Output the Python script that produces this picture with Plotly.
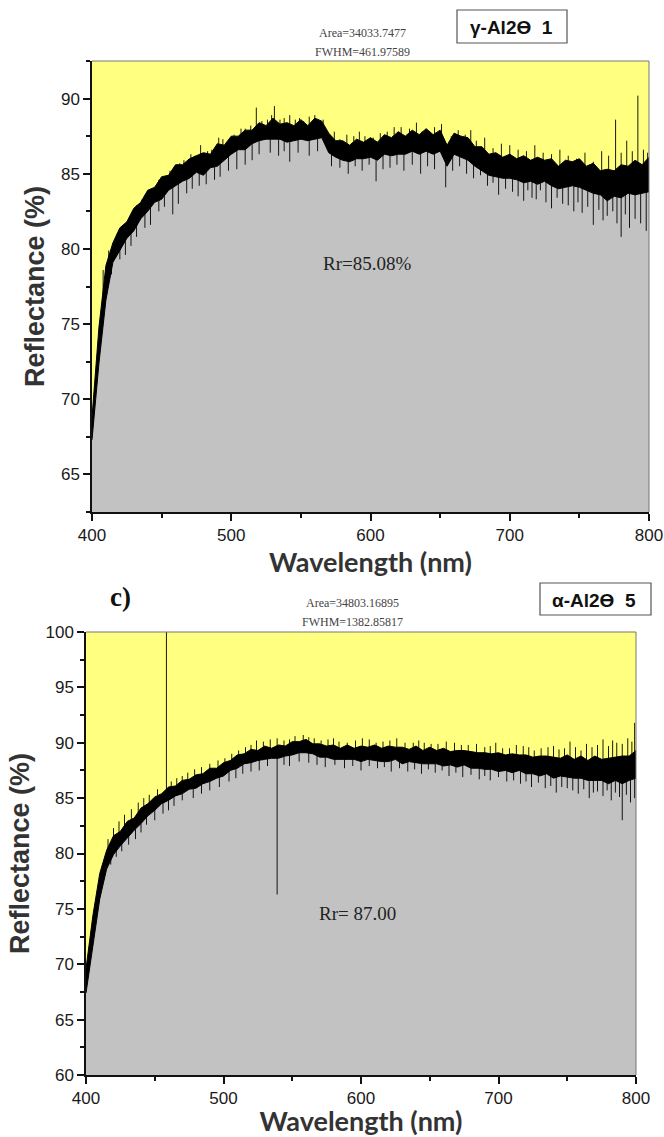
import numpy as np
import plotly.graph_objects as go

# ---------------- data ----------------
wavelength = list(range(400, 805, 5))

# gamma-Al2O3 (top panel): upper / lower edge of the noisy trace
gamma_upper = [68.8, 74.8, 78.9, 80.4, 81.4, 81.8, 82.7, 83.1, 83.9, 84.1,
               84.8, 84.9, 85.6, 85.6, 86.0, 86.2, 86.4, 86.3, 87.0, 86.9,
               87.5, 87.5, 87.9, 87.9, 88.4, 88.2, 88.7, 88.3, 88.4, 88.2,
               88.6, 88.2, 88.7, 88.5, 87.7, 87.2, 87.2, 86.9, 87.3, 87.1,
               87.4, 87.1, 87.6, 87.4, 87.8, 87.5, 87.9, 87.6, 88.0, 87.6,
               87.9, 86.9, 87.7, 87.5, 87.4, 86.8, 86.8, 86.3, 86.4, 86.1,
               86.3, 86.0, 86.2, 85.9, 86.1, 85.9, 86.0, 85.5, 85.9, 85.8,
               86.0, 85.5, 85.7, 85.2, 85.3, 85.2, 85.6, 85.5, 85.9, 85.6,
               86.1]
gamma_lower = [67.3, 72.4, 76.6, 79.1, 79.9, 80.7, 81.2, 82.0, 82.5, 83.1,
               83.3, 83.9, 84.2, 84.5, 84.7, 85.1, 84.9, 85.4, 85.5, 85.9,
               86.3, 86.6, 86.6, 87.0, 87.2, 87.3, 87.3, 87.3, 87.1, 87.2,
               87.3, 87.2, 87.3, 87.4, 86.4, 86.1, 85.9, 85.8, 86.0, 86.0,
               86.1, 85.9, 86.3, 86.2, 86.3, 86.3, 86.5, 86.3, 86.5, 86.3,
               86.5, 85.5, 86.3, 86.1, 85.9, 85.5, 85.2, 84.9, 84.8, 84.7,
               84.7, 84.6, 84.4, 84.5, 84.3, 84.5, 84.2, 84.0, 84.1, 84.2,
               84.1, 83.9, 83.7, 83.6, 83.2, 83.5, 83.4, 83.7, 83.6, 83.7,
               83.8]
gamma_spike_up_x = [408, 412, 418, 423, 428, 432, 436, 441, 444, 448, 452, 456,
                    458, 463, 466, 471, 474, 478, 483, 486, 491, 494, 498, 502,
                    507, 510, 514, 518, 522, 526, 529, 531, 535, 538, 542, 546,
                    549, 552, 556, 560, 563, 566, 574, 578, 583, 588, 592, 596,
                    602, 607, 612, 617, 622, 628, 633, 637, 640, 646, 651, 658,
                    663, 668, 672, 676, 682, 688, 694, 700, 706, 712, 718, 724,
                    730, 736, 742, 748, 754, 760, 766, 771, 776, 780, 784, 788,
                    792, 796, 799]
gamma_spike_up_y = [78.6, 79.9, 81.0, 81.6, 82.2, 82.9, 83.3, 83.7, 83.9, 84.6,
                    84.6, 85.2, 85.0, 85.7, 85.9, 86.3, 86.2, 86.9, 86.5, 86.6,
                    87.4, 87.3, 87.2, 87.6, 88.0, 88.0, 88.2, 89.4, 88.5, 88.6,
                    88.9, 89.5, 88.6, 88.7, 88.9, 88.6, 88.7, 88.5, 88.8, 88.9,
                    88.4, 88.6, 87.8, 87.3, 87.6, 87.5, 87.8, 87.5, 87.4, 87.7,
                    87.8, 88.1, 88.1, 88.0, 88.4, 87.8, 87.8, 88.1, 88.3, 87.5,
                    87.9, 87.6, 87.9, 87.2, 87.4, 86.7, 87.0, 86.9, 86.6, 86.5,
                    86.9, 86.4, 86.3, 86.6, 86.2, 86.0, 86.4, 85.8, 86.5, 86.2,
                    88.6, 86.4, 87.2, 86.5, 90.2, 86.6, 86.4]
gamma_spike_dn_x = [414, 420, 424, 428, 432, 438, 442, 448, 452, 458, 462, 468,
                    472, 477, 482, 488, 492, 498, 504, 510, 515, 520, 528, 534,
                    538, 542, 548, 556, 562, 572, 578, 584, 589, 594, 599, 604,
                    609, 614, 619, 624, 630, 636, 641, 646, 654, 659, 664, 669,
                    674, 679, 684, 688, 692, 697, 702, 706, 710, 713, 716, 719,
                    722, 726, 730, 734, 738, 742, 746, 749, 752, 756, 760, 764,
                    767, 770, 774, 777, 780, 783, 786, 790, 794, 798]
gamma_spike_dn_y = [78.3, 79.3, 79.6, 80.2, 80.8, 81.4, 81.6, 82.5, 82.8, 82.3,
                    83.0, 83.7, 84.0, 84.2, 84.3, 84.6, 84.8, 85.2, 85.3, 85.6,
                    85.9, 86.3, 86.4, 86.2, 86.5, 85.8, 86.4, 86.2, 86.5, 85.5,
                    85.4, 85.0, 85.5, 85.2, 85.6, 84.5, 85.3, 85.4, 85.6, 85.2,
                    85.6, 85.0, 85.5, 85.3, 84.1, 85.2, 85.5, 85.0, 84.7, 84.9,
                    84.2, 84.4, 83.6, 84.0, 83.8, 83.5, 83.2, 83.9, 83.4, 83.3,
                    83.9, 83.1, 82.7, 83.4, 83.0, 82.9, 82.5, 83.1, 82.4, 82.8,
                    81.6, 82.6, 81.9, 82.2, 82.5, 81.7, 80.8, 82.3, 81.4, 82.0,
                    81.7, 81.2]

# alpha-Al2O3 (bottom panel)
alpha_upper = [69.6, 74.4, 78.2, 80.3, 81.6, 82.0, 82.9, 83.2, 84.1, 84.5,
               85.1, 85.4, 86.0, 86.1, 86.6, 86.7, 87.1, 87.2, 87.7, 87.7,
               88.2, 88.4, 88.9, 89.0, 89.4, 89.3, 89.7, 89.5, 89.8, 89.7,
               90.1, 90.1, 90.3, 89.9, 89.9, 89.7, 89.8, 89.5, 89.8, 89.5,
               89.7, 89.6, 89.8, 89.5, 89.7, 89.6, 89.6, 89.4, 89.7, 89.3,
               89.6, 89.3, 89.5, 89.2, 89.3, 89.3, 89.2, 89.1, 89.1, 89.0,
               89.1, 88.9, 89.0, 88.9, 88.9, 88.7, 88.8, 88.8, 88.7, 88.6,
               88.9, 88.5, 88.8, 88.4, 88.8, 88.5, 88.6, 88.7, 88.8, 88.8,
               89.3]
alpha_lower = [67.4, 71.9, 75.9, 78.6, 79.9, 80.7, 81.4, 82.1, 82.7, 83.4,
               83.9, 84.5, 84.8, 85.2, 85.4, 85.8, 85.9, 86.3, 86.5, 86.8,
               87.0, 87.5, 87.7, 88.1, 88.2, 88.4, 88.5, 88.6, 88.6, 88.8,
               88.9, 89.1, 89.1, 89.0, 88.7, 88.7, 88.5, 88.5, 88.5, 88.5,
               88.3, 88.5, 88.4, 88.3, 88.3, 88.5, 88.1, 88.3, 88.2, 88.1,
               88.1, 88.1, 87.9, 88.0, 87.8, 88.0, 87.7, 87.7, 87.6, 87.6,
               87.4, 87.5, 87.3, 87.5, 87.2, 87.2, 87.0, 87.2, 86.8, 87.0,
               86.9, 86.8, 86.8, 86.6, 86.6, 86.6, 86.3, 86.6, 86.3, 86.6,
               86.8]
alpha_spike_up_x = [416, 420, 424, 428, 433, 438, 442, 446, 452, 458.5, 462, 466,
                    470, 474, 479, 484, 490, 496, 501, 506, 511, 516, 520, 524,
                    529, 534, 539, 544, 548, 552, 558, 562, 566, 571, 576, 580,
                    584, 590, 596, 601, 606, 611, 616, 621, 626, 632, 638, 642,
                    646, 651, 656, 662, 668, 673, 678, 684, 690, 694, 698, 703,
                    708, 713, 718, 722, 726, 731, 736, 740, 744, 748, 752, 756,
                    760, 764, 768, 772, 776, 780, 783, 786, 790, 794, 797, 799]
alpha_spike_up_y = [81.3, 82.3, 82.9, 83.5, 84.0, 84.6, 85.0, 85.3, 85.8, 100.0,
                    86.5, 86.8, 87.0, 87.3, 87.6, 87.8, 88.1, 88.4, 88.6, 89.0,
                    89.3, 89.6, 89.8, 90.2, 90.1, 90.3, 90.4, 90.2, 90.3, 90.6,
                    90.7, 90.5, 90.4, 90.2, 90.3, 90.4, 90.1, 90.0, 90.2, 90.4,
                    90.3, 90.0, 90.1, 90.2, 90.4, 90.0, 90.0, 90.2, 90.0, 89.9,
                    89.9, 90.1, 90.0, 89.8, 89.8, 89.9, 89.6, 89.7, 90.0, 89.5,
                    89.5, 89.8, 89.7, 89.6, 89.3, 89.5, 89.6, 89.7, 89.4, 89.5,
                    90.1, 89.6, 89.3, 89.9, 89.6, 89.8, 90.3, 89.7, 90.2, 90.0,
                    89.9, 90.4, 90.1, 91.8]
alpha_spike_dn_x = [418, 422, 426, 431, 436, 440, 444, 450, 456, 460, 464, 470,
                    478, 484, 490, 497, 504, 509, 514, 520, 526, 532, 539, 544,
                    548, 555, 562, 568, 574, 581, 588, 594, 600, 606, 612, 617,
                    622, 628, 634, 639, 644, 649, 654, 659, 664, 669, 674, 680,
                    686, 690, 694, 700, 706, 711, 716, 720, 724, 729, 734, 738,
                    742, 746, 750, 754, 758, 762, 766, 769, 772, 776, 779, 782,
                    785, 788, 790, 793, 796, 799]
alpha_spike_dn_y = [79.0, 79.7, 80.2, 80.8, 81.3, 81.9, 82.6, 83.0, 83.6, 83.9,
                    84.3, 84.8, 85.0, 85.4, 85.7, 86.0, 86.5, 86.8, 87.2, 87.4,
                    87.5, 87.9, 76.3, 88.0, 87.9, 88.3, 88.2, 88.0, 87.8, 88.0,
                    87.7, 87.9, 87.5, 87.9, 87.7, 87.8, 87.4, 87.7, 87.4, 87.6,
                    87.2, 87.6, 87.3, 87.5, 87.0, 87.3, 86.9, 87.1, 86.7, 87.0,
                    86.6, 86.9, 86.5, 86.6, 86.3, 86.5, 86.0, 86.4, 85.9, 86.1,
                    85.5, 86.0, 85.9, 85.7, 85.4, 85.8, 85.0, 85.5, 85.6, 85.2,
                    85.7, 84.8, 85.5, 85.1, 83.0, 85.3, 84.6, 85.0]

x_ticks = [400, 500, 600, 700, 800]
gamma_y_ticks = [65, 70, 75, 80, 85, 90]
alpha_y_ticks = [60, 65, 70, 75, 80, 85, 90, 95, 100]

# ---------------- style ----------------
W, H = 664, 1137
BLACK = "#000000"
GRAY_FILL = "#C2C2C2"
YELLOW = "#FFFF80"
TICK_FONT = dict(family="Liberation Sans, Arial", size=17, color="#1a1a1a")
YTITLE_FONT = dict(family="Liberation Sans, Arial", size=27, color="#333333", weight="bold")
XTITLE_FONT = dict(family="Lato, Noto Sans", size=27, color="#333333", weight="bold")


def px(x):
    return x / W


def py(y):
    return 1 - y / H


fig = go.Figure()


def add_panel(upper, lower, sux, suy, sdx, sdy, xa, ya):
    wl = np.array(wavelength, dtype=float)
    mid = (np.array(upper) + np.array(lower)) / 2
    fig.add_trace(go.Scatter(x=wavelength, y=upper, mode="lines",
                             line=dict(color=BLACK, width=1), fill="tozeroy",
                             fillcolor=BLACK, xaxis=xa, yaxis=ya, hoverinfo="skip"))
    fig.add_trace(go.Scatter(x=wavelength, y=lower, mode="lines",
                             line=dict(color=BLACK, width=1), fill="tozeroy",
                             fillcolor=GRAY_FILL, xaxis=xa, yaxis=ya, hoverinfo="skip"))
    xs, ys = [], []
    for sx, sy in list(zip(sux, suy)) + list(zip(sdx, sdy)):
        base = float(np.interp(sx, wl, mid))
        xs += [sx, sx, None]
        ys += [base, sy, None]
    fig.add_trace(go.Scatter(x=xs, y=ys, mode="lines",
                             line=dict(color=BLACK, width=0.9),
                             xaxis=xa, yaxis=ya, hoverinfo="skip"))


add_panel(gamma_upper, gamma_lower, gamma_spike_up_x, gamma_spike_up_y,
          gamma_spike_dn_x, gamma_spike_dn_y, "x", "y")
add_panel(alpha_upper, alpha_lower, alpha_spike_up_x, alpha_spike_up_y,
          alpha_spike_dn_x, alpha_spike_dn_y, "x2", "y2")

axis_common = dict(showline=True, linecolor="#111111", linewidth=1.5, mirror=False,
                   ticks="outside", ticklen=7, tickwidth=1.5, tickcolor="#111111",
                   showgrid=False, zeroline=False, tickfont=TICK_FONT, automargin=False,
                   ticklabeloverflow="allow")

fig.update_layout(
    width=W, height=H,
    margin=dict(l=0, r=0, t=0, b=0, autoexpand=False),
    paper_bgcolor="white", plot_bgcolor=YELLOW,
    showlegend=False,
    xaxis=dict(domain=[px(92), px(649)], anchor="y", range=[400, 800],
               tickvals=x_ticks,
               minor=dict(dtick=50, tick0=400, ticks="outside", ticklen=4, tickcolor="#111111"),
               title=dict(text="Wavelength (nm)", font=XTITLE_FONT, standoff=0),
               **axis_common),
    yaxis=dict(domain=[py(512), py(61)], anchor="x", range=[62.5, 92.5],
               tickvals=gamma_y_ticks,
               minor=dict(dtick=2.5, tick0=0, ticks="outside", ticklen=4, tickcolor="#111111"),
               title=dict(text="Reflectance (%)", font=YTITLE_FONT, standoff=8),
               **axis_common),
    xaxis2=dict(domain=[px(86), px(636)], anchor="y2", range=[400, 800],
                tickvals=x_ticks,
                minor=dict(dtick=50, tick0=400, ticks="outside", ticklen=4, tickcolor="#111111"),
                title=dict(text="Wavelength (nm)", font=XTITLE_FONT, standoff=2),
                **axis_common),
    yaxis2=dict(domain=[py(1075), py(632)], anchor="x2", range=[60, 100],
                tickvals=alpha_y_ticks,
                minor=dict(dtick=2.5, tick0=0, ticks="outside", ticklen=4, tickcolor="#111111"),
                title=dict(text="Reflectance (%)", font=YTITLE_FONT, standoff=8),
                **axis_common),
)

# thin top / right frame lines
for xr, yr in (("x domain", "y domain"), ("x2 domain", "y2 domain")):
    fig.add_shape(type="line", xref=xr, yref=yr, x0=0, x1=1, y0=1, y1=1,
                  line=dict(color="#777", width=1))
    fig.add_shape(type="line", xref=xr, yref=yr, x0=1, x1=1, y0=0, y1=1,
                  line=dict(color="#777", width=1))

SERIF = "Liberation Serif, Times New Roman"
ann = [
    dict(text="Area=34033.7477", x=px(362), y=py(33), font=dict(family=SERIF, size=12, color="#444")),
    dict(text="FWHM=461.97589", x=px(362), y=py(52), font=dict(family=SERIF, size=12, color="#444")),
    dict(text="Area=34803.16895", x=px(352), y=py(603), font=dict(family=SERIF, size=12, color="#444")),
    dict(text="FWHM=1382.85817", x=px(352), y=py(622), font=dict(family=SERIF, size=12, color="#444")),
    dict(text="<b>γ-Al2Ɵ  1</b>", x=px(511), y=py(27), font=dict(family="Liberation Sans, Arial", size=19, color="#111")),
    dict(text="<b>α-Al2Ɵ  5</b>", x=px(594), y=py(600), font=dict(family="Liberation Sans, Arial", size=19, color="#111")),
    dict(text="Rr=85.08%", x=px(367), y=py(263), font=dict(family=SERIF, size=19, color="#222")),
    dict(text="Rr= 87.00", x=px(357), y=py(913), font=dict(family=SERIF, size=19, color="#222")),
    dict(text="<b>c)</b>", x=px(120), y=py(597), font=dict(family=SERIF, size=27, color="#111")),
]
for a in ann:
    a.update(xref="paper", yref="paper", showarrow=False, xanchor="center", yanchor="middle")
fig.update_layout(annotations=ann)

fig.add_shape(type="rect", xref="paper", yref="paper",
              x0=px(457), x1=px(567), y0=py(43), y1=py(10),
              line=dict(color="#555", width=1.2), fillcolor="white")
fig.add_shape(type="rect", xref="paper", yref="paper",
              x0=px(540), x1=px(651), y0=py(615), y1=py(583),
              line=dict(color="#555", width=1.2), fillcolor="white")

fig.write_html("out.html", config={"displayModeBar": False},
               post_script="document.body.style.margin='0';document.body.style.overflow='hidden';")
